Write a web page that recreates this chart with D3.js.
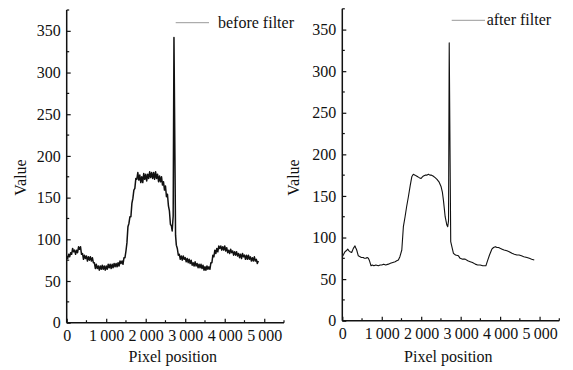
<!DOCTYPE html>
<html>
<head>
<meta charset="utf-8">
<script src="https://cdn.jsdelivr.net/npm/d3@7"></script>
<style>
  html, body { margin: 0; padding: 0; background: #fff; }
  svg { display: block; }
  text { font-family: "Liberation Serif", "Times New Roman", serif; fill: #111; }
</style>
</head>
<body>
<svg id="chart" width="573" height="370"></svg>
<script>
// ---------------- data ----------------
const yTickValues = [0, 50, 100, 150, 200, 250, 300, 350];
const yTickLabels = ["0", "50", "100", "150", "200", "250", "300", "350"];
const yMinorTicks = [25, 75, 125, 175, 225, 275, 325, 375];
const xTickValues = [0, 1000, 2000, 3000, 4000, 5000];
const xTickLabels = ["0", "1\u2009000", "2\u2009000", "3\u2009000", "4\u2009000", "5\u2009000"];
const xMinorTicks = [500, 1500, 2500, 3500, 4500, 5500];
const seriesNames = ["before filter", "after filter"];
const axisTitleX = "Pixel position";
const axisTitleY = "Value";

// before filter: [pixel position, value]
const beforeFilter = [
 [0,80],[25,77],[50,82],[75,79],[100,84],[125,82],[150,89],[175,85],[200,87],[225,82],
 [250,87],[275,84],[300,91],[325,88],[350,91],[375,82],[400,83],[425,76],[450,81],[475,77],
 [500,80],[525,74],[550,79],[575,75],[600,79],[625,74],[650,78],[675,72],[700,72],[725,65],
 [750,70],[775,65],[800,68],[825,63],[850,68],[875,64],[900,69],[925,64],[950,68],[975,63],
 [1000,68],[1025,64],[1050,70],[1075,66],[1100,70],[1125,65],[1150,70],[1175,66],[1200,71],[1225,67],
 [1250,71],[1275,67],[1300,72],[1325,68],[1350,74],[1375,71],[1400,74],[1425,70],[1450,78],[1475,78],
 [1500,86],[1525,96],[1550,115],[1575,119],[1600,127],[1625,127],[1650,143],[1675,149],[1700,159],[1725,161],
 [1750,173],[1775,172],[1800,180],[1825,171],[1850,177],[1875,168],[1900,175],[1925,168],[1950,179],[1975,172],
 [2000,178],[2025,170],[2050,178],[2075,173],[2100,181],[2125,174],[2150,180],[2175,173],[2200,180],[2225,172],
 [2250,181],[2275,173],[2300,178],[2325,169],[2350,176],[2375,169],[2400,175],[2425,165],[2450,169],[2475,159],
 [2500,164],[2525,151],[2550,154],[2575,140],[2600,134],[2625,118],[2650,116],[2670,110],[2695,128],[2715,342],
 [2755,105],[2775,93],[2800,89],[2825,81],[2850,82],[2875,76],[2900,80],[2925,75],[2950,80],[2975,76],
 [3000,78],[3025,73],[3050,77],[3075,72],[3100,76],[3125,71],[3150,75],[3175,69],[3200,72],[3225,68],
 [3250,73],[3275,68],[3300,71],[3325,66],[3350,70],[3375,66],[3400,70],[3425,65],[3450,69],[3475,63],
 [3500,67],[3525,63],[3550,68],[3575,64],[3600,67],[3625,64],[3650,72],[3675,72],[3700,81],[3725,79],
 [3750,87],[3775,83],[3800,89],[3825,85],[3850,92],[3875,89],[3900,92],[3925,87],[3950,91],[3975,87],
 [4000,92],[4025,86],[4050,90],[4075,84],[4100,87],[4125,83],[4150,88],[4175,84],[4200,86],[4225,81],
 [4250,85],[4275,81],[4300,85],[4325,80],[4350,83],[4375,78],[4400,82],[4425,77],[4450,83],[4475,79],
 [4500,81],[4525,76],[4550,81],[4575,76],[4600,81],[4625,76],[4650,79],[4675,74],[4700,78],[4725,74],
 [4750,79],[4775,74],[4800,76],[4825,71],[4850,74]
];

// after filter: [pixel position, value]
const afterFilter = [
 [0,77],[35,80],[68,83],[100,84],[137,86],[170,84],[195,83],[238,82],[280,87],[322,90],
 [345,87],[365,85],[406,78],[450,77],[480,76],[533,76],[560,75],[600,75],[630,76],[660,75],
 [690,72],[728,66],[760,67],[800,66],[850,67],[914,66],[960,67],[1000,67],[1050,68],[1100,67],
 [1168,68],[1220,69],[1280,70],[1340,71],[1380,72],[1421,73],[1460,77],[1508,85],[1548,113],[1591,125],
 [1630,137],[1675,149],[1720,162],[1761,173],[1800,176],[1845,175],[1880,174],[1913,173],[1950,172],[1997,171],
 [2030,173],[2056,174],[2100,175],[2140,175],[2183,176],[2220,175],[2260,175],[2300,174],[2353,172],[2400,170],
 [2450,167],[2505,161],[2535,155],[2563,145],[2585,135],[2607,125],[2650,115],[2672,113],[2692,120],[2710,334],
 [2748,95],[2777,89],[2817,81],[2870,79],[2944,78],[2987,75],[3050,74],[3114,74],[3180,72],[3241,71],
 [3300,70],[3370,68],[3430,67],[3495,67],[3560,66],[3639,66],[3680,72],[3731,79],[3790,86],[3833,88],
 [3880,89],[3920,88],[3959,88],[4000,87],[4050,86],[4100,85],[4172,84],[4230,83],[4300,81],[4360,80],
 [4426,79],[4480,79],[4540,78],[4600,77],[4680,76],[4740,75],[4800,74],[4865,73]
];

// ---------------- drawing ----------------
const svg = d3.select("#chart");

const panels = [
  { data: beforeFilter, name: seriesNames[0], x0: 66.7, x1: 284.0, y0: 322.7, y1: 10.0,
    lineW: 1.5, titleYx: 25.5, legLine: [175.7, 209, 22.7], legText: [218, 27.5] },
  { data: afterFilter, name: seriesNames[1], x0: 342.3, x1: 559.3, y0: 320.7, y1: 8.8,
    lineW: 1.1, titleYx: 298.5, legLine: [451.7, 485, 20.3], legText: [486.7, 25] }
];

panels.forEach(p => {
  const x = d3.scaleLinear().domain([0, 5500]).range([p.x0, p.x1]);
  const y = d3.scaleLinear().domain([0, 375]).range([p.y0, p.y1]);
  const g = svg.append("g");

  // data line
  const line = d3.line().x(d => x(d[0])).y(d => y(d[1]));
  g.append("path").datum(p.data)
    .attr("d", line)
    .attr("fill", "none")
    .attr("stroke", "#111")
    .attr("stroke-width", p.lineW)
    .attr("stroke-linejoin", "round");

  // y axis (ticks inward)
  const yAxis = d3.axisLeft(y).tickValues(yTickValues)
    .tickFormat((d, i) => yTickLabels[i]).tickSize(-4).tickPadding(6);
  const ya = g.append("g").attr("transform", `translate(${p.x0},0)`).call(yAxis);
  ya.select(".domain").remove();
  ya.selectAll("text").attr("font-size", 16).attr("font-family", "Liberation Serif").attr("fill", "#111");
  ya.selectAll(".tick line").attr("stroke", "#111").attr("stroke-width", 1.2);

  // y minor ticks
  g.selectAll(null).data(yMinorTicks).enter().append("line")
    .attr("x1", p.x0).attr("x2", p.x0 + 2.5)
    .attr("y1", d => y(d)).attr("y2", d => y(d))
    .attr("stroke", "#111").attr("stroke-width", 1.2);

  // x axis (ticks inward)
  const xAxis = d3.axisBottom(x).tickValues(xTickValues)
    .tickFormat((d, i) => xTickLabels[i]).tickSize(-4).tickPadding(7);
  const xa = g.append("g").attr("transform", `translate(0,${p.y0})`).call(xAxis);
  xa.select(".domain").remove();
  xa.selectAll("text").attr("font-size", 16).attr("font-family", "Liberation Serif").attr("fill", "#111");
  xa.selectAll(".tick line").attr("stroke", "#111").attr("stroke-width", 1.2);

  g.selectAll(null).data(xMinorTicks).enter().append("line")
    .attr("x1", d => x(d)).attr("x2", d => x(d))
    .attr("y1", p.y0).attr("y2", p.y0 - 2.5)
    .attr("stroke", "#111").attr("stroke-width", 1.2);

  // axis lines
  g.append("line").attr("x1", p.x0).attr("x2", p.x0).attr("y1", p.y0).attr("y2", p.y1)
    .attr("stroke", "#111").attr("stroke-width", 1.5);
  g.append("line").attr("x1", p.x0).attr("x2", p.x1).attr("y1", p.y0).attr("y2", p.y0)
    .attr("stroke", "#111").attr("stroke-width", 1.5);

  // axis titles
  g.append("text").attr("x", (p.x0 + p.x1) / 2 - 2.5).attr("y", 362)
    .attr("text-anchor", "middle").attr("font-size", 16).text(axisTitleX);
  g.append("text")
    .attr("transform", `translate(${p.titleYx},177.5) rotate(-90)`)
    .attr("text-anchor", "middle").attr("font-size", 16).text(axisTitleY);

  // legend
  g.append("line").attr("x1", p.legLine[0]).attr("x2", p.legLine[1])
    .attr("y1", p.legLine[2]).attr("y2", p.legLine[2])
    .attr("stroke", "#999").attr("stroke-width", 1);
  g.append("text").attr("x", p.legText[0]).attr("y", p.legText[1])
    .attr("font-size", 16).text(p.name);
});
</script>
</body>
</html>
